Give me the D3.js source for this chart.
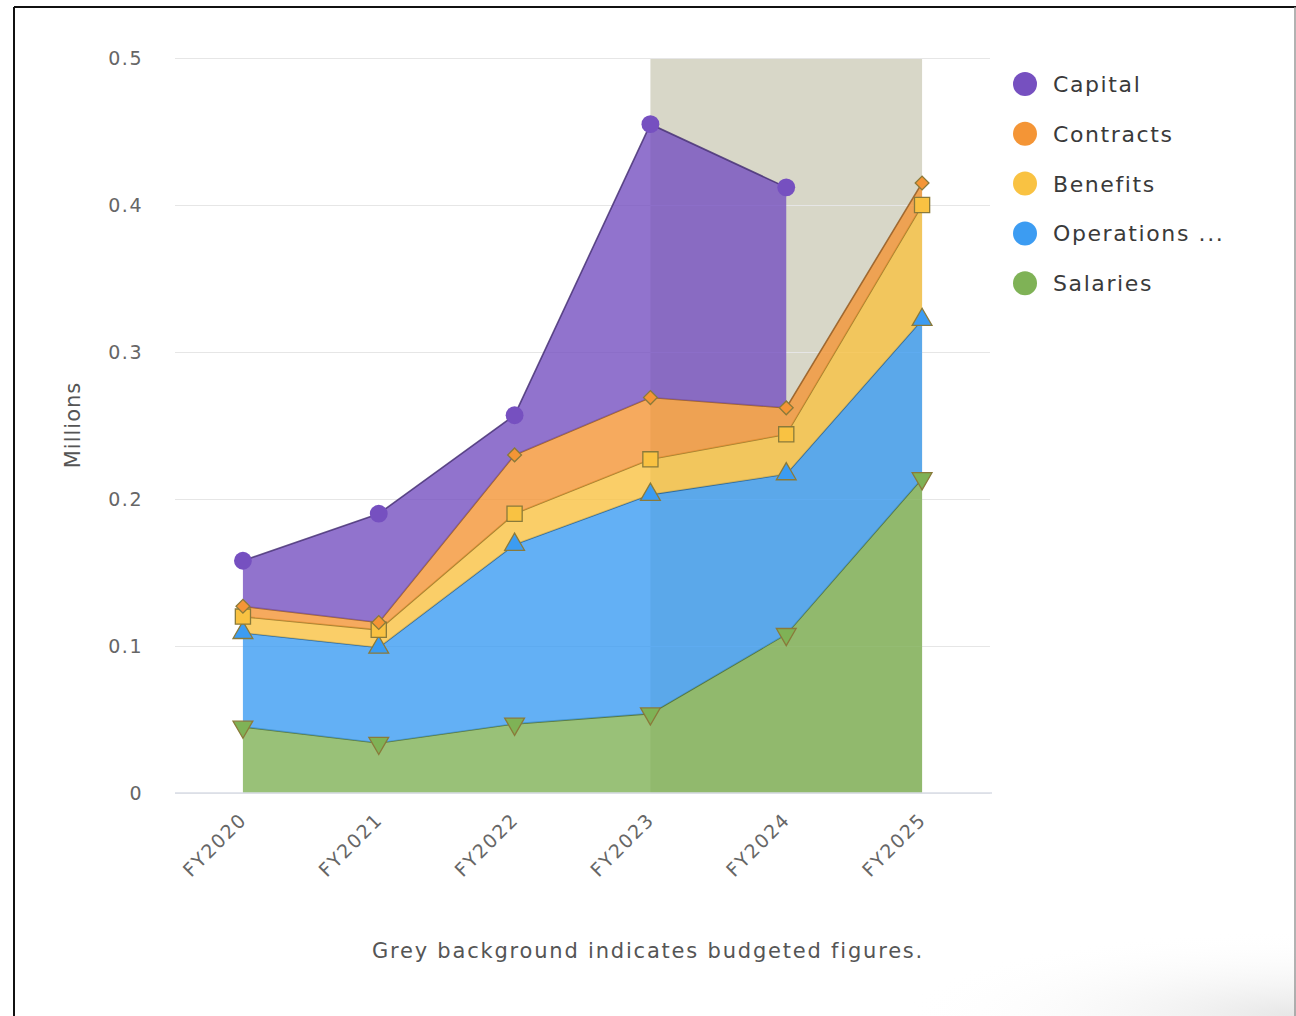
<!DOCTYPE html>
<html>
<head>
<meta charset="utf-8">
<title>Budget by category</title>
<script src="https://cdnjs.cloudflare.com/ajax/libs/d3/7.8.5/d3.min.js"></script>
<style>
  html, body { margin: 0; padding: 0; background: #fff; }
  svg { display: block; }
</style>
</head>
<body>
<div id="chart"></div>
<script>
// fiscal years on the x axis
const years = ["FY2020", "FY2021", "FY2022", "FY2023", "FY2024", "FY2025"];
const budgetedYears = ["FY2023", "FY2025"]; // grey band from / to

// values in millions (not cumulative)
const salaries   = [0.045, 0.034, 0.047, 0.054, 0.108, 0.214];
const operations = [0.064, 0.065, 0.122, 0.149, 0.109, 0.108];
const benefits   = [0.011, 0.012, 0.021, 0.024, 0.027, 0.078];
const contracts  = [0.007, 0.005, 0.040, 0.042, 0.018, 0.015];
const capital    = [0.031, 0.074, 0.027, 0.186, 0.150, null];

const yTicks = [0, 0.1, 0.2, 0.3, 0.4, 0.5];

const series = [
  { name: "Salaries",       values: salaries,   color: "#7fb256", marker: "down" },
  { name: "Operations ...", values: operations, color: "#3c9cf2", marker: "up" },
  { name: "Benefits",       values: benefits,   color: "#f9c242", marker: "square" },
  { name: "Contracts",      values: contracts,  color: "#f49536", marker: "diamond" },
  { name: "Capital",        values: capital,    color: "#7650c0", marker: "circle" }
];

const W = 1296, H = 1016;
const mLeft = 175, mRight = 990, mTop = 58, mBottom = 793;
const font = "'DejaVu Sans', sans-serif";

const svg = d3.select("#chart").append("svg")
  .attr("width", W).attr("height", H);

// faint shading in the bottom right corner of the screenshot
const defs = svg.append("defs");
const grad = defs.append("radialGradient").attr("id", "corner")
  .attr("cx", "100%").attr("cy", "100%").attr("r", "100%");
grad.append("stop").attr("offset", "0%").attr("stop-color", "#e6e6e6");
grad.append("stop").attr("offset", "100%").attr("stop-color", "#fff").attr("stop-opacity", 0);
svg.append("rect").attr("x", 900).attr("y", 930).attr("width", 396).attr("height", 86)
  .attr("fill", "url(#corner)");

// screenshot frame
svg.append("line").attr("x1", 14).attr("x2", 1296).attr("y1", 7).attr("y2", 7)
  .attr("stroke", "#111").attr("stroke-width", 2);
svg.append("line").attr("x1", 14).attr("x2", 14).attr("y1", 7).attr("y2", H)
  .attr("stroke", "#111").attr("stroke-width", 2);
svg.append("line").attr("x1", 1295).attr("x2", 1295).attr("y1", 7).attr("y2", H)
  .attr("stroke", "#999").attr("stroke-width", 1.5);

const x = d3.scalePoint().domain(years).range([mLeft, mRight]).padding(0.5);
const y = d3.scaleLinear().domain([0, 0.5]).range([mBottom, mTop]);

// budgeted band
svg.append("rect")
  .attr("x", x(budgetedYears[0]))
  .attr("y", y(0.5))
  .attr("width", x(budgetedYears[1]) - x(budgetedYears[0]))
  .attr("height", y(0) - y(0.5))
  .attr("fill", "#d8d7c8");

// grid
svg.append("g")
  .attr("transform", `translate(${mLeft},0)`)
  .call(d3.axisLeft(y).tickValues(yTicks).tickSize(-(mRight - mLeft)).tickFormat(d => d === 0 ? "0" : d3.format(".1f")(d)))
  .call(g => g.select(".domain").remove())
  .call(g => g.selectAll("line").attr("stroke", "#e6e6e6"))
  .call(g => g.selectAll("text")
    .attr("x", -32).attr("fill", "#666")
    .style("font-family", font).style("font-size", "19px").style("letter-spacing", "1.5px"));

// stack
const table = years.map((yr, i) => {
  const row = { year: yr };
  series.forEach(s => { row[s.name] = s.values[i] == null ? 0 : s.values[i]; });
  return row;
});
const stacked = d3.stack().keys(series.map(s => s.name))(table);

const area = d3.area()
  .x((d, i) => x(years[i]))
  .y0(d => y(d[0]))
  .y1(d => y(d[1]));
const line = d3.line()
  .x((d, i) => x(years[i]))
  .y(d => y(d[1]));

stacked.forEach((layer, k) => {
  const s = series[k];
  const def = (d, i) => s.values[i] != null;
  svg.append("path")
    .attr("d", area.defined(def)(layer))
    .attr("fill", s.color)
    .attr("fill-opacity", 0.8);
  svg.append("path")
    .attr("d", line.defined(def)(layer))
    .attr("fill", "none")
    .attr("stroke", d3.color(s.color).darker(1.4))
    .attr("stroke-opacity", 0.85)
    .attr("stroke-width", 1.6);
});

// markers
const markerShape = {
  circle:  { type: d3.symbolCircle,   size: 250, rot: 0 },
  square:  { type: d3.symbolSquare,   size: 230, rot: 0 },
  diamond: { type: d3.symbolSquare,   size: 95,  rot: 45 },
  up:      { type: d3.symbolTriangle, size: 170, rot: 0 },
  down:    { type: d3.symbolTriangle, size: 170, rot: 180 }
};
stacked.forEach((layer, k) => {
  const s = series[k];
  const m = markerShape[s.marker];
  svg.append("g").selectAll("path")
    .data(layer.filter((d, i) => s.values[i] != null))
    .join("path")
    .attr("transform", d => `translate(${x(d.data.year)},${y(d[1])}) rotate(${m.rot})`)
    .attr("d", d3.symbol().type(m.type).size(m.size))
    .attr("fill", s.color)
    .attr("stroke", s.marker === "circle" ? "none" : "#8a7a3a")
    .attr("stroke-width", 1.3);
});

// baseline
svg.append("line")
  .attr("x1", mLeft).attr("x2", mRight + 2)
  .attr("y1", y(0)).attr("y2", y(0))
  .attr("stroke", "#d8dce6").attr("stroke-width", 1.5);

// x labels
svg.append("g")
  .selectAll("text")
  .data(years)
  .join("text")
  .attr("transform", d => `translate(${x(d) + 5},${y(0) + 28}) rotate(-45)`)
  .attr("text-anchor", "end")
  .attr("fill", "#666")
  .style("font-family", font)
  .style("font-size", "19px")
  .style("letter-spacing", "1.6px")
  .text(d => d);

// y title
svg.append("text")
  .attr("transform", `translate(80,425) rotate(-90)`)
  .attr("text-anchor", "middle")
  .attr("fill", "#555")
  .style("font-family", font)
  .style("font-size", "21px")
  .style("letter-spacing", "1px")
  .text("Millions");

// caption
svg.append("text")
  .attr("x", 648).attr("y", 958)
  .attr("text-anchor", "middle")
  .attr("fill", "#555")
  .style("font-family", font)
  .style("font-size", "21px")
  .style("letter-spacing", "1.8px")
  .text("Grey background indicates budgeted figures.");

// legend (top to bottom: Capital ... Salaries)
const legend = svg.append("g").attr("transform", "translate(1025,84)");
const legendItems = series.slice().reverse();
legendItems.forEach((s, i) => {
  const g = legend.append("g").attr("transform", `translate(0,${i * 49.8})`);
  g.append("circle").attr("r", 12).attr("fill", s.color);
  g.append("text")
    .attr("x", 28).attr("y", 8)
    .attr("fill", "#3a3a3a")
    .style("font-family", font)
    .style("font-size", "22px")
    .style("letter-spacing", "1.6px")
    .text(s.name);
});
</script>
</body>
</html>
